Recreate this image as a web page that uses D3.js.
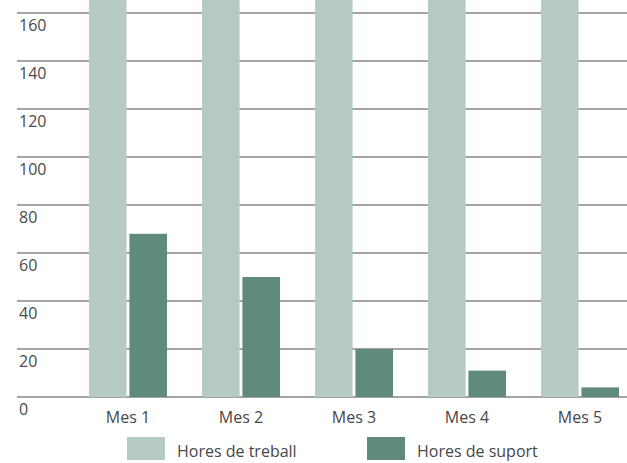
<!DOCTYPE html>
<html>
<head>
<meta charset="utf-8">
<script src="https://cdn.jsdelivr.net/npm/d3@7"></script>
<style>
  html, body { margin: 0; padding: 0; background: #fff; }
  svg { display: block; }
  text { font-family: "Open Sans", "Noto Sans", sans-serif; fill: #474747; }
</style>
</head>
<body>
<svg id="chart" width="627" height="463"></svg>
<script>
// Monthly hours: work hours vs. support hours
const months = ["Mes 1", "Mes 2", "Mes 3", "Mes 4", "Mes 5"];
const seriesNames = ["Hores de treball", "Hores de suport"];
const horesTreball = [170, 170, 170, 170, 170];
const horesSuport = [68, 50, 20, 11, 4];
const yTicks = [0, 20, 40, 60, 80, 100, 120, 140, 160];
const colors = ["#b5cac4", "#5f8a7c"];

const svg = d3.select("#chart");
const W = 627;

const y = d3.scaleLinear().domain([0, 160]).range([397, 13]);

const x = d3.scaleBand().domain(months).range([89, 619]).paddingInner(0.31).paddingOuter(0);
const xs = d3.scaleBand().domain(seriesNames).range([0, x.bandwidth()]).paddingInner(0.07);

// Horizontal grid lines (drawn beneath the bars)
const grid = svg.append("g");
grid.selectAll("line")
  .data(yTicks)
  .join("line")
  .attr("x1", 17).attr("x2", W)
  .attr("y1", d => y(d)).attr("y2", d => y(d))
  .attr("stroke", "#858585")
  .attr("stroke-width", 1.5);

// Tick labels sit just under each grid line, at the left edge
const yAxis = d3.axisLeft(y).tickValues(yTicks).tickSize(0).tickPadding(0);
const yg = svg.append("g").attr("transform", "translate(19,0)").call(yAxis);
yg.select(".domain").remove();
yg.selectAll("text")
  .attr("text-anchor", "start")
  .attr("x", 0)
  .attr("dy", "17px")
  .style("font-size", "16px")
  .style("fill", "#4a4a4a");

// Bars
const rows = months.map((m, i) => ({ month: m, values: [horesTreball[i], horesSuport[i]] }));
const groups = svg.append("g").selectAll("g")
  .data(rows)
  .join("g")
  .attr("transform", d => `translate(${x(d.month)},0)`);

groups.selectAll("rect")
  .data(d => d.values.map((v, j) => ({ key: seriesNames[j], value: v, j })))
  .join("rect")
  .attr("x", d => xs(d.key))
  .attr("width", xs.bandwidth())
  .attr("y", d => y(d.value))
  .attr("height", d => y(0) - y(d.value))
  .attr("fill", d => colors[d.j]);

// Category labels
const xAxis = d3.axisBottom(x).tickSize(0).tickPadding(0);
const xg = svg.append("g").attr("transform", `translate(0,${y(0)})`).call(xAxis);
xg.select(".domain").remove();
xg.selectAll("text")
  .attr("dy", "26px")
  .attr("y", 0)
  .style("font-size", "16px")
  .style("fill", "#474747");

// Legend
const legend = svg.append("g").selectAll("g")
  .data(seriesNames)
  .join("g")
  .attr("transform", (d, i) => `translate(${i === 0 ? 127 : 367},437)`);
legend.append("rect")
  .attr("width", 38).attr("height", 23)
  .attr("fill", (d, i) => colors[i]);
legend.append("text")
  .attr("x", 50).attr("y", 20)
  .style("font-size", "16px")
  .text(d => d);
</script>
</body>
</html>
